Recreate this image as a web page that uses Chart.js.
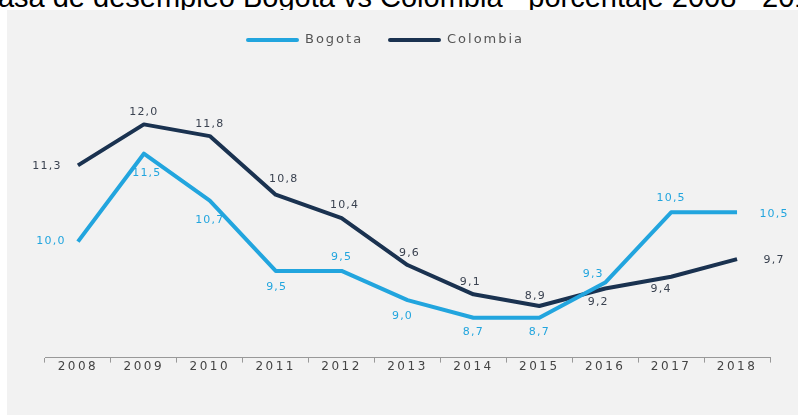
<!DOCTYPE html>
<html>
<head>
<meta charset="utf-8">
<script src="https://cdn.jsdelivr.net/npm/chart.js@4/dist/chart.umd.min.js"></script>
<style>
  html, body { margin: 0; padding: 0; background: #fff; width: 798px; height: 417px; overflow: hidden; }
  #title {
    position: absolute; top: -19px; left: 405px; transform: translateX(-50%);
    white-space: nowrap; font: 29px "Liberation Sans", Arial, sans-serif; color: #000;
  }
  #panel {
    position: absolute; left: 7px; top: 10px; width: 791px; height: 405px;
    background: #f2f2f2;
  }
</style>
</head>
<body>
<div id="title">Tasa de desempleo Bogota vs Colombia - porcentaje 2008 - 2018</div>
<div id="panel"><canvas id="chart"></canvas></div>
<script>
// Unemployment rate, Bogota vs Colombia (%)
const years = ['2008', '2009', '2010', '2011', '2012', '2013', '2014', '2015', '2016', '2017', '2018'];
const bogota = [10.0, 11.5, 10.7, 9.5, 9.5, 9.0, 8.7, 8.7, 9.3, 10.5, 10.5];
const colombia = [11.3, 12.0, 11.8, 10.8, 10.4, 9.6, 9.1, 8.9, 9.2, 9.4, 9.7];

const BOGOTA_COLOR = '#22a5de';
const COLOMBIA_COLOR = '#1a3250';
const FONT = '"DejaVu Sans", sans-serif';

// label offsets from each point [dx, dy]
const bogotaLabelPos = [[-27, 0], [3, 19], [0, 20], [1, 16], [0, -14], [-5, 16], [0, 14], [0, 14], [-12, -8], [0, -14], [37, 2]];
const colombiaLabelPos = [[-31, 1], [0, -12], [0, -12], [8, -16], [3, -13], [2, -12], [-3, -12], [-4, -10], [-7, 14], [-10, 12], [37, 1]];

const fmt = v => v.toFixed(1).replace('.', ',');

const spacing = {
  id: 'spacing',
  beforeDraw(chart) { chart.ctx.letterSpacing = '2.5px'; }
};

// legend drawn by hand so it can sit off-centre like the original
const legendItems = {
  id: 'legendItems',
  afterDraw(chart) {
    const ctx = chart.ctx;
    const starts = [241, 383];
    ctx.save();
    ctx.letterSpacing = '2px';
    ctx.font = '13px ' + FONT;
    ctx.textBaseline = 'middle';
    ctx.textAlign = 'left';
    chart.data.datasets.forEach((ds, i) => {
      const x = starts[i], y = 30;
      ctx.strokeStyle = ds.borderColor;
      ctx.lineWidth = 4;
      ctx.lineCap = 'round';
      ctx.beginPath();
      ctx.moveTo(x, y);
      ctx.lineTo(x + 49, y);
      ctx.stroke();
      ctx.fillStyle = '#555';
      ctx.fillText(ds.label, x + 57, y);
    });
    ctx.restore();
  }
};

const pointLabels = {
  id: 'pointLabels',
  afterDatasetsDraw(chart) {
    const ctx = chart.ctx;
    const sets = [
      { i: 0, pos: bogotaLabelPos, color: BOGOTA_COLOR },
      { i: 1, pos: colombiaLabelPos, color: '#3a4250' }
    ];
    ctx.save();
    ctx.letterSpacing = '1.2px';
    ctx.font = '11px ' + FONT;
    ctx.textAlign = 'center';
    ctx.textBaseline = 'middle';
    sets.forEach(s => {
      const ds = chart.data.datasets[s.i];
      chart.getDatasetMeta(s.i).data.forEach((pt, k) => {
        ctx.fillStyle = s.color;
        ctx.fillText(fmt(ds.data[k]), pt.x + s.pos[k][0], pt.y + s.pos[k][1]);
      });
    });
    ctx.restore();
  }
};

new Chart(document.getElementById('chart'), {
  type: 'line',
  data: {
    labels: years,
    datasets: [
      {
        label: 'Bogota',
        data: bogota,
        borderColor: BOGOTA_COLOR,
        backgroundColor: BOGOTA_COLOR,
        borderWidth: 4,
        pointRadius: 0,
        tension: 0,
        borderJoinStyle: 'round'
      },
      {
        label: 'Colombia',
        data: colombia,
        borderColor: COLOMBIA_COLOR,
        backgroundColor: COLOMBIA_COLOR,
        borderWidth: 4,
        pointRadius: 0,
        tension: 0,
        borderJoinStyle: 'round'
      }
    ]
  },
  options: {
    responsive: true,
    maintainAspectRatio: false,
    animation: false,
    layout: { padding: { top: 47, left: 38, right: 28, bottom: 44 } },
    plugins: {
      legend: { display: false },
      tooltip: { enabled: false }
    },
    scales: {
      x: {
        offset: true,
        grid: { offset: true, drawOnChartArea: false, tickLength: 5, color: '#999' },
        border: { display: true, color: '#999' },
        ticks: { color: '#444', padding: -3, font: { family: FONT, size: 12 } }
      },
      y: {
        display: false,
        min: 8.02,
        max: 13.15
      }
    }
  },
  plugins: [spacing, pointLabels, legendItems]
});
</script>
</body>
</html>
